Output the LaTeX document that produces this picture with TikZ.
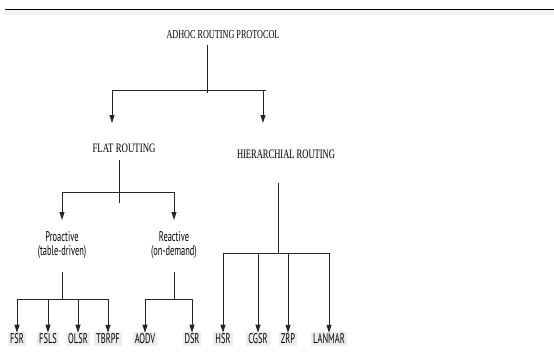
\documentclass[tikz,border=0pt]{standalone}
\usepackage{fontspec}
\usepackage{graphicx}
\setmainfont{Liberation Serif}
\newfontfamily\lblfont[FakeStretch=0.6]{PT Sans}
\usetikzlibrary{arrows.meta}
\begin{document}
\begin{tikzpicture}[x=1pt,y=-1pt,
  conn/.style={draw=black!85,line width=0.9pt},
  arr/.style={conn,-{Triangle[width=5pt,length=8pt]}},
  head/.style={inner sep=1pt},
  leaf/.style={fill=gray!14,inner sep=2pt,font=\lblfont\fontsize{14}{14}\selectfont},
  cat/.style={align=center,inner sep=1pt,font=\lblfont\fontsize{14}{13.5}\selectfont}]
\useasboundingbox (0,0) rectangle (554,356);
\fill[white] (0,0) rectangle (554,356);
\fill[gray!10] (5,10) rectangle (554,15);
\draw[line width=1pt] (5,9) -- (554,9);

% headings
\node[head] (adhoc) at (223,35) {\resizebox{113pt}{8pt}{ADHOC ROUTING PROTOCOL}};
\node[head] (flat) at (124,148) {\resizebox{63pt}{8.5pt}{FLAT ROUTING}};
\node[head,fill=gray!6] (hier) at (286,154) {\resizebox{98pt}{8.5pt}{HIERARCHIAL ROUTING}};
\node[cat] (pro) at (62,245) {Proactive\\(table-driven)};
\node[cat] (rea) at (174,245) {Reactive\\(on-demand)};

% leaves
\node[leaf] (fsr) at (17,339) {FSR};
\node[leaf] (fsls) at (48,339) {FSLS};
\node[leaf] (olsr) at (78,339) {OLSR};
\node[leaf] (tbrpf) at (108,339) {TBRPF};
\node[leaf] (aodv) at (145,339) {AODV};
\node[leaf] (dsr) at (192,339) {DSR};
\node[leaf] (hsr) at (223,339) {HSR};
\node[leaf] (cgsr) at (258,339) {CGSR};
\node[leaf] (zrp) at (288,339) {ZRP};
\node[leaf] (lanmar) at (329,339) {LANMAR};

% junction coordinates
\coordinate (r0) at (207,45);
\coordinate (r1) at (207,93);
\coordinate (rl) at (112,90);
\coordinate (rr) at (266,90);
\coordinate (rra) at (263,90);
\coordinate (fa) at (112,123);
\coordinate (ha) at (263,123);

\coordinate (f0) at (119,160);
\coordinate (f1) at (119,203);
\coordinate (fl) at (62,192);
\coordinate (fr) at (174,192);
\coordinate (pa) at (62,220);
\coordinate (ra) at (174,220);

\coordinate (h0) at (278,183);
\coordinate (h1) at (278,253);
\coordinate (hl) at (223,253);
\coordinate (hr) at (329,253);

\coordinate (p0) at (62,272);
\coordinate (p1) at (62,299);
\coordinate (pl) at (17,299);
\coordinate (pr) at (108,299);

\coordinate (q0) at (174,272);
\coordinate (q1) at (174,299);
\coordinate (ql) at (145,299);
\coordinate (qr) at (192,299);

% root
\draw[conn] (r0) -- (r1);
\draw[conn] (rl) -- (rr);
\draw[arr] (rl) -- (fa);
\draw[arr] (rra) -- (ha);

% flat routing
\draw[conn] (f0) -- (f1);
\draw[conn] (fl) -- (fr);
\draw[arr] (fl) -- (pa);
\draw[arr] (fr) -- (ra);

% hierarchical
\draw[conn] (h0) -- (h1);
\draw[conn] (hl) -- (hr);
\foreach \n in {hsr,cgsr,zrp,lanmar}
  \draw[arr] (\n.north |- hl) -- ([yshift=-1pt]\n.north);

% proactive
\draw[conn] (p0) -- (p1);
\draw[conn] (pl) -- (pr);
\foreach \n in {fsr,fsls,olsr,tbrpf}
  \draw[arr] (\n.north |- pl) -- ([yshift=-1pt]\n.north);

% reactive
\draw[conn] (q0) -- (q1);
\draw[conn] (ql) -- (qr);
\foreach \n in {aodv,dsr}
  \draw[arr] (\n.north |- ql) -- ([yshift=-1pt]\n.north);
\end{tikzpicture}
\end{document}
